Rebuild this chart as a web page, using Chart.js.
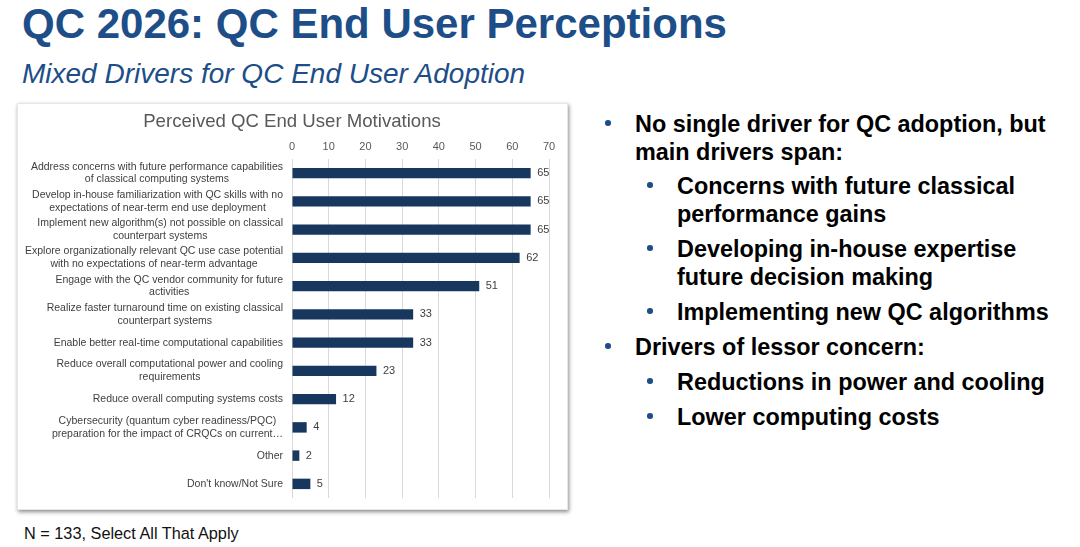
<!DOCTYPE html>
<html>
<head>
<meta charset="utf-8">
<script src="https://cdn.jsdelivr.net/npm/chart.js@4.4.1/dist/chart.umd.min.js"></script>
<style>
  html, body { margin: 0; padding: 0; background: #ffffff; }
  body { width: 1080px; height: 547px; position: relative; overflow: hidden; font-family: "Liberation Sans", Arial, sans-serif; }
  .title { position: absolute; left: 22px; top: 3px; font-size: 42px; font-weight: bold; color: #1d4e88; line-height: 1; white-space: nowrap; }
  .subtitle { position: absolute; left: 22px; top: 60px; font-size: 28px; font-style: italic; color: #1d4e88; line-height: 1; white-space: nowrap; }
  .foot { position: absolute; left: 24px; top: 525px; font-size: 16.3px; color: #111; line-height: 1; white-space: nowrap; }
  .box { position: absolute; left: 17px; top: 103px; width: 551px; height: 407px; background: #fff; box-shadow: 1px 2px 4px rgba(0,0,0,0.45); border: 1px solid #e6e6e6; box-sizing: border-box; }
  .box canvas { position: absolute; left: -1px; top: -1px; }
  .p { position: absolute; font-size: 23.4px; font-weight: bold; color: #000; line-height: 28px; white-space: nowrap; }
  .p .b { position: absolute; top: 10px; width: 5.5px; height: 5.5px; border-radius: 50%; background: #1d4e88; }
  .l1 { left: 635px; }
  .l1 .b { left: -30px; }
  .l2 { left: 677px; }
  .l2 .b { left: -30px; }
</style>
</head>
<body>
<div class="title">QC 2026: QC End User Perceptions</div>
<div class="subtitle">Mixed Drivers for QC End User Adoption</div>
<div class="box"><canvas id="c" width="551" height="407" style="width:551px;height:407px"></canvas></div>
<div class="foot">N = 133, Select All That Apply</div>

<div class="p l1" style="top:110px"><span class="b"></span>No single driver for QC adoption, but<br>main drivers span:</div>
<div class="p l2" style="top:172px"><span class="b"></span>Concerns with future classical<br>performance gains</div>
<div class="p l2" style="top:235px"><span class="b"></span>Developing in-house expertise<br>future decision making</div>
<div class="p l2" style="top:298px"><span class="b"></span>Implementing new QC algorithms</div>
<div class="p l1" style="top:333px"><span class="b"></span>Drivers of lessor concern:</div>
<div class="p l2" style="top:368px"><span class="b"></span>Reductions in power and cooling</div>
<div class="p l2" style="top:403px"><span class="b"></span>Lower computing costs</div>

<script>
const chartTitle = "Perceived QC End User Motivations";
const categories = [
  ["Address concerns with future performance capabilities", "of classical computing systems"],
  ["Develop in-house familiarization with QC skills with no", "expectations of near-term end use deployment"],
  ["Implement new algorithm(s) not possible on classical", "counterpart systems"],
  ["Explore organizationally relevant QC use case potential", "with no expectations of near-term advantage"],
  ["Engage with the QC vendor community for future", "activities"],
  ["Realize faster turnaround time on existing classical", "counterpart systems"],
  ["Enable better real-time computational capabilities"],
  ["Reduce overall computational power and cooling", "requirements"],
  ["Reduce overall computing systems costs"],
  ["Cybersecurity (quantum cyber readiness/PQC)", "preparation for the impact of CRQCs on current\u2026"],
  ["Other"],
  ["Don't know/Not Sure"]
];
const responses = [65, 65, 65, 62, 51, 33, 33, 23, 12, 4, 2, 5];
const xMin = 0, xMax = 70, xStep = 10;

const FONT = '"Liberation Sans", Arial, sans-serif';

const valueLabels = {
  id: 'valueLabels',
  afterDatasetsDraw(chart) {
    const ctx = chart.ctx;
    const meta = chart.getDatasetMeta(0);
    const data = chart.data.datasets[0].data;
    ctx.save();
    ctx.font = '11px ' + FONT;
    ctx.fillStyle = '#404040';
    ctx.textAlign = 'left';
    ctx.textBaseline = 'middle';
    meta.data.forEach((bar, i) => {
      ctx.fillText(String(data[i]), bar.x + 6.5, bar.y);
    });
    ctx.restore();
  }
};

const centeredYLabels = {
  id: 'centeredYLabels',
  afterDraw(chart) {
    const ctx = chart.ctx;
    const yScale = chart.scales.y;
    const right = chart.chartArea.left - 9;
    const lh = 12.8;
    ctx.save();
    ctx.font = '10.5px ' + FONT;
    ctx.fillStyle = '#404040';
    ctx.textAlign = 'center';
    ctx.textBaseline = 'middle';
    chart.data.labels.forEach((lines, i) => {
      const y = yScale.getPixelForValue(i);
      const w = Math.max(...lines.map(s => ctx.measureText(s).width));
      const cx = right - w / 2;
      const y0 = y - (lines.length - 1) * lh / 2;
      lines.forEach((s, k) => ctx.fillText(s, cx, y0 + k * lh));
    });
    ctx.restore();
  }
};

new Chart(document.getElementById('c'), {
  type: 'bar',
  data: {
    labels: categories,
    datasets: [{
      data: responses,
      backgroundColor: '#17375e',
      borderWidth: 0,
      categoryPercentage: 1,
      barPercentage: 0.37
    }]
  },
  options: {
    indexAxis: 'y',
    responsive: false,
    animation: false,
    devicePixelRatio: 1,
    layout: { padding: { left: 18, right: 19, top: 0, bottom: 12 } },
    plugins: {
      legend: { display: false },
      tooltip: { enabled: false },
      title: {
        display: true,
        text: chartTitle,
        color: '#595959',
        font: { family: FONT, size: 18.6, weight: 'normal' },
        padding: { top: 8, bottom: 4 }
      }
    },
    scales: {
      x: {
        position: 'top',
        min: xMin, max: xMax,
        ticks: { stepSize: xStep, color: '#595959', font: { family: FONT, size: 11 }, padding: 5 },
        grid: { color: '#d9d9d9', drawTicks: false, lineWidth: 1 },
        border: { display: false },
        afterFit(scale) { scale.height = 55 - 33.3; }
      },
      y: {
        ticks: { display: false },
        grid: { display: false },
        border: { display: false },
        afterFit(scale) { scale.width = 257; }
      }
    }
  },
  plugins: [valueLabels, centeredYLabels]
});
</script>
</body>
</html>
